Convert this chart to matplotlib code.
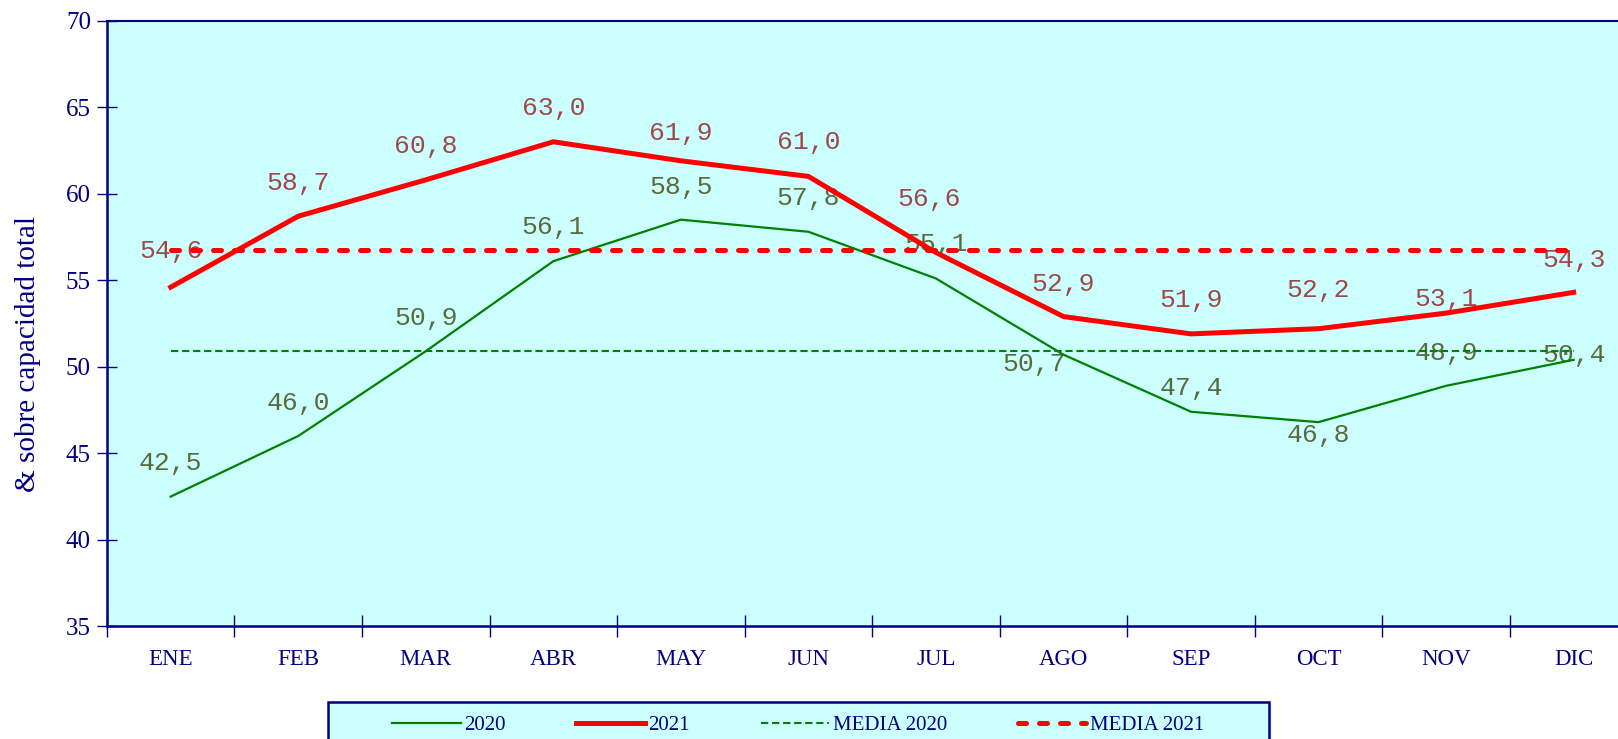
import numpy as np
import matplotlib.pyplot as plt
from matplotlib.patches import Rectangle

meses = ["ENE", "FEB", "MAR", "ABR", "MAY", "JUN", "JUL", "AGO", "SEP", "OCT", "NOV", "DIC"]
v2020 = [42.5, 46.0, 50.9, 56.1, 58.5, 57.8, 55.1, 50.7, 47.4, 46.8, 48.9, 50.4]
v2021 = [54.6, 58.7, 60.8, 63.0, 61.9, 61.0, 56.6, 52.9, 51.9, 52.2, 53.1, 54.3]

# where each value label sits relative to its point (pixels, up is positive)
off2020 = [(0, 34), (0, 33), (0, 33), (0, 34), (0, 33), (0, 34), (0, 34),
           (-29, -9), (0, 24), (0, -13), (0, 33), (0, 5)]
off2021 = [(0, 36), (0, 33), (0, 34), (0, 34), (0, 28), (0, 34), (-7, 54),
           (0, 33), (0, 34), (0, 39), (0, 14), (0, 32)]

navy = "#000080"
fondo = "#CCFFFF"

x = np.arange(len(meses))
media2020 = np.mean(v2020)
media2021 = np.mean(v2021)

fig = plt.figure(figsize=(16.18, 7.39), dpi=100)
ax = fig.add_axes([0.0661, 0.1524, 0.9459, 0.8197])
ax.set_facecolor(fondo)

l1, = ax.plot(x, v2020, color="#008000", lw=1.6, zorder=2, label="2020")
l3, = ax.plot(x, np.full(len(x), media2020), color="#008000", lw=1.5,
              dashes=(3.5, 1.8), zorder=2, label="MEDIA 2020")
l4, = ax.plot(x, np.full(len(x), media2021), color="#FF0000", lw=3.6,
              dashes=(1.6, 2.6), dash_capstyle="round", zorder=3, label="MEDIA 2021")
l2, = ax.plot(x, v2021, color="#FF0000", lw=3.6, zorder=4, label="2021")

# value labels sit under the lines, as in the original
for xi, v, off in zip(x, v2020, off2020):
    ax.annotate(f"{v:.1f}".replace(".", ","), (xi, v), xytext=off, textcoords="offset pixels",
                ha="center", va="center", family="Liberation Mono", fontsize=19,
                color="#5A6B3A", zorder=1.5)
for xi, v, off in zip(x, v2021, off2021):
    ax.annotate(f"{v:.1f}".replace(".", ","), (xi, v), xytext=off, textcoords="offset pixels",
                ha="center", va="center", family="Liberation Mono", fontsize=19,
                color="#A04848", zorder=1.5)

ax.set_xlim(-0.5, 11.5)
ax.set_ylim(35, 70)
ax.set_yticks(np.arange(35, 71, 5))
ax.set_xticks(x)
ax.set_xticklabels(meses)
ax.set_xticks(np.arange(-0.5, 11.6, 1), minor=True)

ax.tick_params(axis="x", which="major", length=0, pad=16, labelsize=16.5, labelcolor=navy)
ax.tick_params(axis="x", which="minor", direction="inout", length=16, width=1, color=navy)
ax.tick_params(axis="y", direction="inout", length=15, width=1, color=navy,
               pad=4, labelsize=18, labelcolor=navy)
for lab in ax.get_xticklabels() + ax.get_yticklabels():
    lab.set_family("Liberation Serif")

for s in ["left", "bottom", "top", "right"]:
    ax.spines[s].set_color(navy)
ax.spines["left"].set_linewidth(1.8)
ax.spines["bottom"].set_linewidth(1.8)
ax.spines["top"].set_linewidth(1.5)

ax.set_ylabel("& sobre capacidad total", family="Liberation Serif", fontsize=21, color=navy)
ax.yaxis.set_label_coords(-0.043, 0.45)

# legend box, cut off by the bottom edge of the image
fig.add_artist(Rectangle((328 / 1618, -0.05), 941 / 1618, 0.05 + 1 - 702 / 739,
                         transform=fig.transFigure, facecolor=fondo, edgecolor=navy,
                         lw=1.8, zorder=1))
leg = fig.legend([l1, l2, l3, l4], ["2020", "2021", "MEDIA 2020", "MEDIA 2021"],
                 loc="center", bbox_to_anchor=(798 / 1618, 1 - 725 / 739), ncol=4,
                 handlelength=3.3, handletextpad=0.15, columnspacing=3.4,
                 frameon=False, prop={"family": "Liberation Serif", "size": 15})
leg.set_zorder(2)
for t in leg.get_texts():
    t.set_color(navy)

fig.savefig("out.png", dpi=100)
